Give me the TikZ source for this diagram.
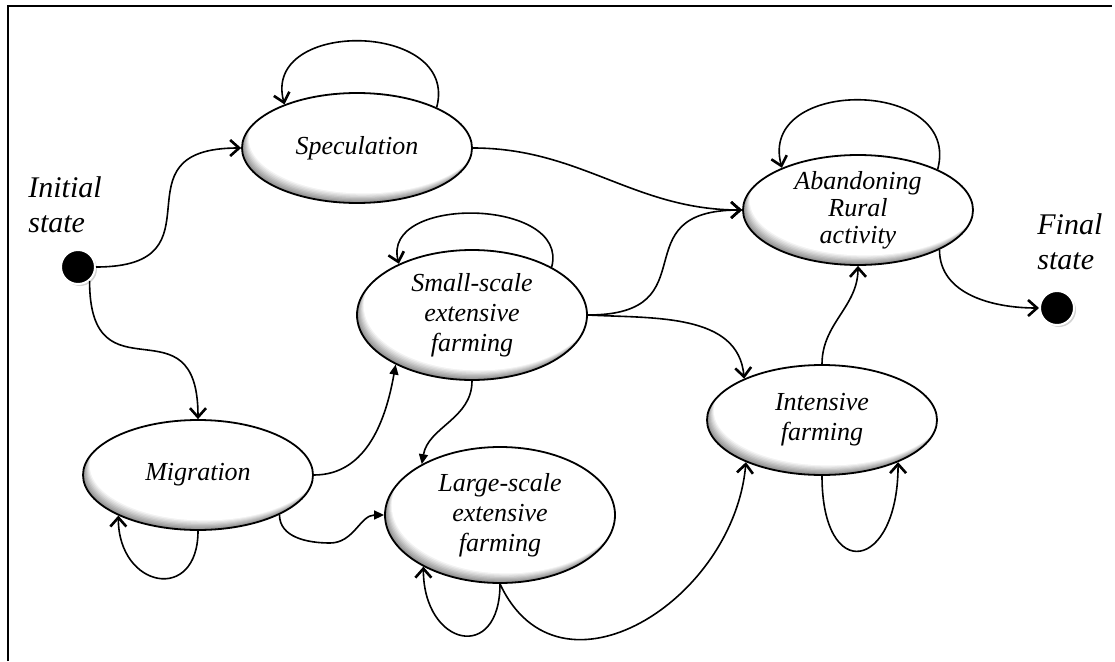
\documentclass[tikz,border=0pt]{standalone}
\usepackage{fontspec}
\setmainfont{Liberation Serif}
\usetikzlibrary{arrows.meta,shapes.geometric,shadows,calc}
\begin{document}
\begin{tikzpicture}[x=0.5pt,y=0.5pt,
  inshade/.style={path picture={
    \path (path picture bounding box.south west) coordinate (pp1)
          (path picture bounding box.north east) coordinate (pp2);
    \fill[black!45] (pp1) rectangle (pp2);
    \foreach \j in {1,...,8}{
      \pgfmathtruncatemacro\pc{45-45*\j/8}
      \fill[black!\pc] let \p1=(pp1),\p2=(pp2) in
        ($(0.5*\x1+0.5*\x2,0.5*\y1+0.5*\y2)+(0.42pt*\j,0.6pt*\j)$)
        ellipse [x radius={0.5*\x2-0.5*\x1}, y radius={0.5*\y2-0.5*\y1}];
    }
  }},
  stnode/.style={ellipse, draw, line width=0.9pt, fill=white, inshade, minimum width=115pt, minimum height=55pt, inner sep=0pt, align=center, font=\fontsize{13}{15}\selectfont\itshape},
  stdot/.style={circle, fill=black, draw=white, line width=1pt, minimum size=17pt, inner sep=0pt, drop shadow={opacity=0.35, shadow xshift=1pt, shadow yshift=-1pt}},
  lbl/.style={align=left, font=\fontsize{15}{17.5}\selectfont\itshape, inner sep=0pt, anchor=west},
  conn/.style={line width=0.8pt, -{Straight Barb[length=4.5pt,width=8pt,line width=1.3pt]}},
  connt/.style={line width=0.8pt, -{Triangle[length=5pt,width=4.5pt]}},
]
\useasboundingbox (0,0) rectangle (1115,661);
\draw[line width=1pt] (8,0) -- (8,655) -- (1112,655);

\node[stnode] (spec) at (357,513) {Speculation};
\node[stnode, font=\fontsize{13}{13.5}\selectfont\itshape] (ab) at (858,451) {Abandoning\\Rural\\activity};
\node[stnode, minimum height=65pt] (small) at (472,346) {Small-scale\\extensive\\farming};
\node[stnode, minimum height=68pt] (large) at (500,146) {Large-scale\\extensive\\farming};
\node[stnode] (mig) at (198,186) {Migration};
\node[stnode] (int) at (822,241) {Intensive\\farming};
\node[stdot] (init) at (78,394) {};
\node[stdot] (fin) at (1057,353) {};
\node[lbl] (initl) at (28,456) {Initial\\state};
\node[lbl] (finl) at (1037,419) {Final\\state};
\coordinate (w1) at (330,118);

\draw[conn] (init.east) to[out=0,in=180,looseness=1.8] (spec.west);
\draw[conn] (init.-50) to[out=-90,in=90,looseness=1.8] (mig.north);
\draw[conn] (spec.east) to[out=0,in=180] (ab.west);
\draw[conn] (spec.27) to[out=75,in=105,looseness=1.5] (spec.149);
\draw[conn] (ab.27) to[out=75,in=105,looseness=1.55] (ab.151);
\draw[conn] (ab.-26) to[out=-90,in=180] (fin.west);
\draw[conn] (small.31) to[out=75,in=105,looseness=1.2] (small.145);
\draw[conn] (small.east) to[out=0,in=180,looseness=1.7] (ab.west);
\draw[conn] (small.east) to[out=-3,in=95] (int.152);
\draw[connt] (small.south) to[out=-90,in=80] (large.147);
\draw[connt] (mig.east) to[out=0,in=-100] (small.213);
\draw[connt] (mig.-26) to[out=-90,in=180] (w1) to[out=0,in=180] (large.west);
\draw[conn] (mig.south) to[out=-90,in=-90,looseness=2.3] (mig.207);
\draw[conn] (large.south) to[out=-90,in=-90,looseness=2.6] (large.214);
\draw[conn] (large.south) to[out=-65,in=-95,looseness=1.3] (int.209);
\draw[conn] (int.south) to[out=-90,in=-90,looseness=3.6] (int.-29);
\draw[conn] (int.north) to[out=90,in=-90] (ab.south);
\end{tikzpicture}
\end{document}
